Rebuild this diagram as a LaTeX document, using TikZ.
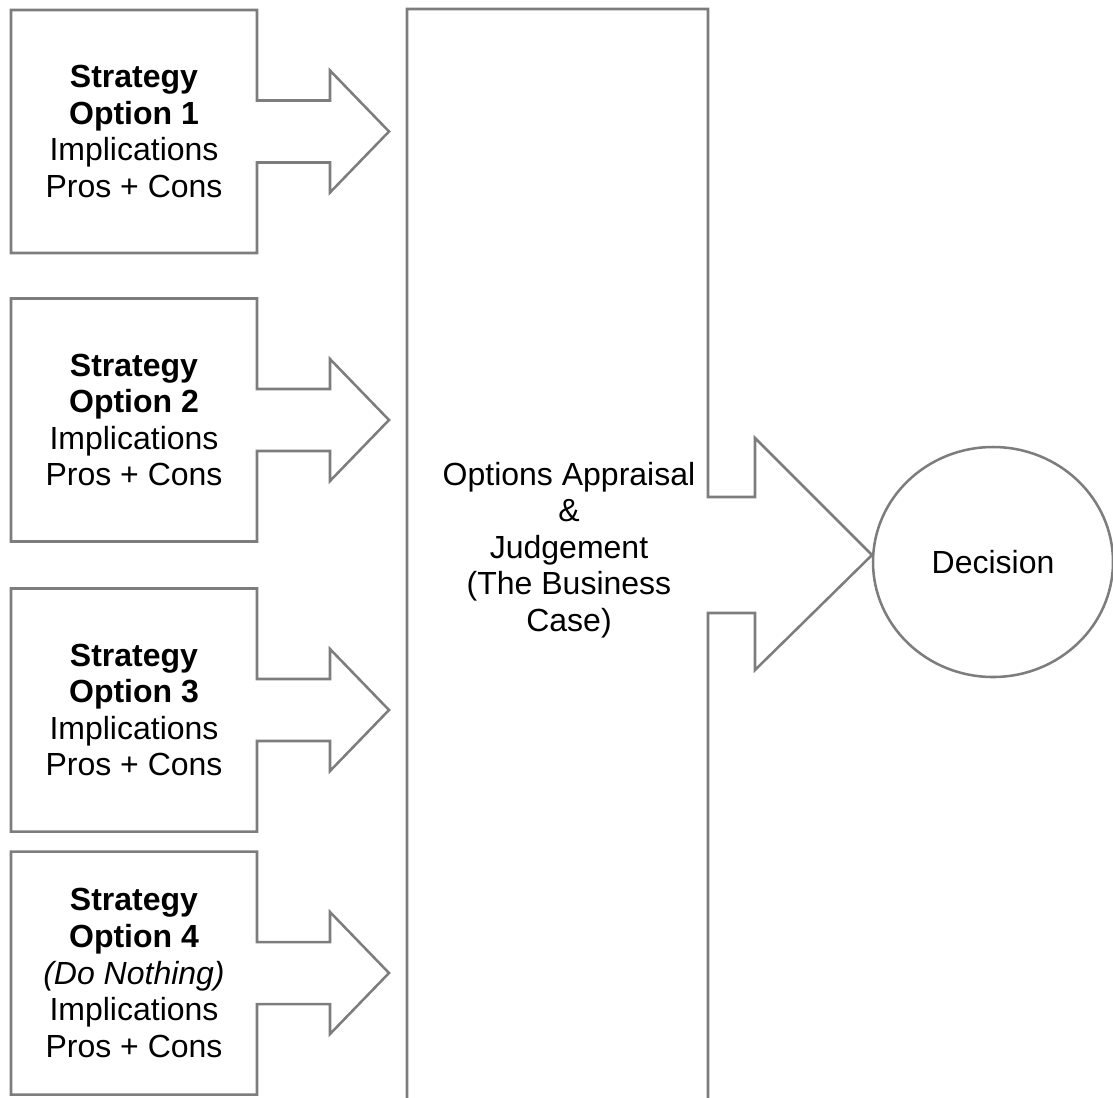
\documentclass[tikz,border=0pt]{standalone}
\usepackage{fontspec}
\setmainfont{Liberation Sans}
\usepackage{tikz}
\usetikzlibrary{shapes.geometric}
\definecolor{edgegray}{RGB}{125,125,125}
\tikzset{
    outline/.style={draw=edgegray, line width=1.9pt, line join=miter},
    optlbl/.style={align=center, inner sep=0pt, text=black,
                   font=\fontsize{24}{27.4}\selectfont},
}
% box with an arrow on its right side, #1 = centre y
\newcommand{\optshape}[1]{%
    \draw[outline] (11,#1-121.5) -- (257,#1-121.5) -- (257,#1-31) -- (330,#1-31)
        -- (330,#1-61) -- (389,#1) -- (330,#1+61) -- (330,#1+31) -- (257,#1+31)
        -- (257,#1+121.5) -- (11,#1+121.5) -- cycle;}

\begin{document}
\begin{tikzpicture}[x=0.75pt, y=-0.75pt]
        \useasboundingbox (0,0) rectangle (1113,1097);
        \clip (0,0) rectangle (1113,1097);
        \optshape{131.5}
        \optshape{420}
        \optshape{710}
        \optshape{973}
        \node[optlbl] (opt1) at (134,131.5)
            {\textbf{Strategy}\\\textbf{Option 1}\\Implications\\Pros + Cons};
        \node[optlbl] (opt2) at (134,420)
            {\textbf{Strategy}\\\textbf{Option 2}\\Implications\\Pros + Cons};
        \node[optlbl] (opt3) at (134,710)
            {\textbf{Strategy}\\\textbf{Option 3}\\Implications\\Pros + Cons};
        \node[optlbl] (opt4) at (134,973)
            {\textbf{Strategy}\\\textbf{Option 4}\\\textit{(Do Nothing)}\\Implications\\Pros + Cons};
        % appraisal column, open at the bottom
        \draw[outline] (407,1110) -- (407,9) -- (708,9) -- (708,497) -- (755,497)
            -- (755,438) -- (872,555) -- (755,670) -- (755,613) -- (708,613) -- (708,1110);
        \node[optlbl] (appraisal) at (569,550)
            {Options Appraisal\\\&\\Judgement\\(The Business\\Case)};
        \node[outline, optlbl, ellipse, minimum width=180pt, minimum height=172.5pt]
            (decision) at (993,562) {Decision};
\end{tikzpicture}
\end{document}
